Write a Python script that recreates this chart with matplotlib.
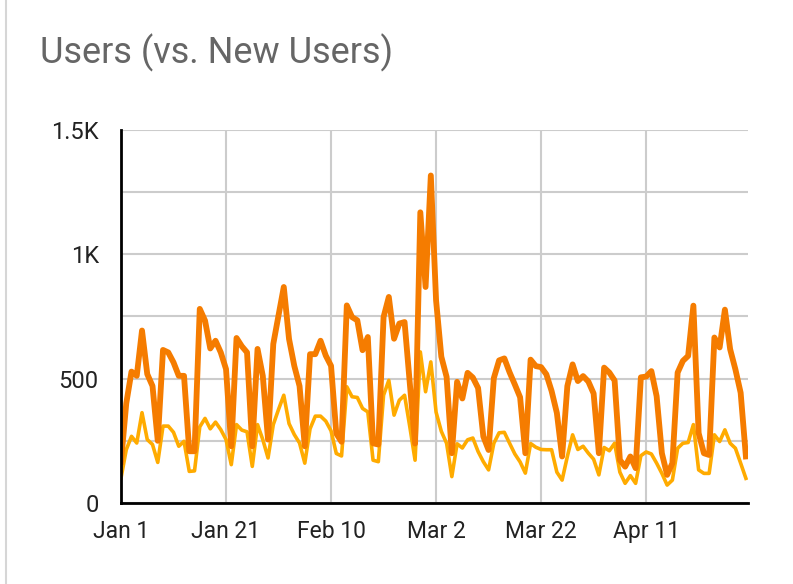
import numpy as np
import pandas as pd
import matplotlib
matplotlib.use("Agg")
import matplotlib.pyplot as plt
from matplotlib.ticker import FixedLocator

plt.rcParams['font.family'] = ['Roboto', 'DejaVu Sans']

# daily values, Jan 1 .. Apr 30
users = [165, 400, 528, 511, 693, 518, 470, 250, 615, 605,
         565, 511, 511, 208, 208, 780, 733, 621, 652, 605,
         538, 228, 663, 630, 605, 228, 619, 511, 255, 639,
         754, 868, 659, 551, 470, 228, 598, 598, 652, 592,
         551, 279, 246, 794, 747, 734, 614, 667, 240, 235,
         747, 828, 660, 721, 727, 480, 239, 1168, 868, 1316,
         814, 588, 507, 200, 487, 420, 523, 504, 462, 267,
         213, 502, 573, 581, 525, 476, 425, 200, 576, 550,
         546, 517, 450, 362, 187, 470, 557, 490, 510, 488,
         440, 200, 544, 524, 492, 173, 146, 187, 140, 505,
         508, 530, 429, 200, 113, 160, 524, 571, 591, 793,
         281, 200, 193, 665, 625, 777, 618, 537, 443, 187]

new_users = [100, 214, 268, 241, 363, 255, 235, 163, 309, 309,
             284, 228, 248, 127, 129, 306, 340, 298, 325, 295,
             255, 154, 315, 293, 286, 147, 315, 255, 181, 315,
             376, 433, 319, 275, 241, 160, 298, 349, 349, 329,
             290, 199, 189, 467, 427, 424, 380, 366, 172, 166,
             433, 493, 353, 413, 433, 306, 172, 607, 447, 567,
             365, 288, 240, 106, 238, 221, 254, 261, 207, 166,
             133, 240, 282, 284, 240, 197, 165, 120, 239, 224,
             215, 214, 214, 124, 92, 187, 274, 215, 228, 200,
             176, 113, 223, 210, 240, 124, 79, 110, 79, 190,
             205, 197, 160, 119, 72, 92, 220, 240, 243, 315,
             133, 119, 119, 274, 247, 294, 240, 220, 160, 99]

dates = pd.date_range('2018-01-01', periods=len(users), freq='D')
y_ticks = [0, 500, 1000, 1500]
y_labels = ['0', '500', '1K', '1.5K']

W, H = 793, 584
fig = plt.figure(figsize=(W / 100, H / 100), dpi=100)
ax = fig.add_axes([121 / W, 1 - 503 / H, 627 / W, (503 - 129.7) / H])

ax.plot(dates, new_users, color='#FFAB00', lw=2.6, zorder=3, solid_joinstyle='round')
ax.plot(dates, users, color='#F57C00', lw=4.2, zorder=4, solid_joinstyle='round')

ax.set_ylim(0, 1500)
ax.set_xlim(dates[0], dates[0] + pd.Timedelta(days=119.4))

ax.yaxis.set_major_locator(FixedLocator(y_ticks))
ax.yaxis.set_minor_locator(FixedLocator([250, 750, 1250]))
ax.set_yticklabels(y_labels)

xt = dates[::20]
ax.set_xticks(xt)
ax.set_xticklabels([f"{d:%b} {d.day}" for d in xt])

ax.grid(True, which='both', color='#cccccc', lw=1.5, zorder=0)
ax.tick_params(which='both', length=0, labelsize=16.5, labelcolor='#222222')
ax.tick_params(axis='y', labelsize=17, pad=16)
ax.tick_params(axis='x', pad=12)

for s in ['top', 'right']:
    ax.spines[s].set_visible(False)
for s in ['left', 'bottom']:
    ax.spines[s].set_color('black')
    ax.spines[s].set_linewidth(2)
    ax.spines[s].set_zorder(5)

# card border
fig.add_artist(plt.Line2D([5.5 / W, 5.5 / W], [0, 1], color='#d6d6d6', lw=1.5))

fig.text(40 / W, 1 - 63 / H, 'Users (vs. New Users)', fontsize=26,
         color='#666666', ha='left', va='baseline')

fig.savefig('out.png', dpi=100)
